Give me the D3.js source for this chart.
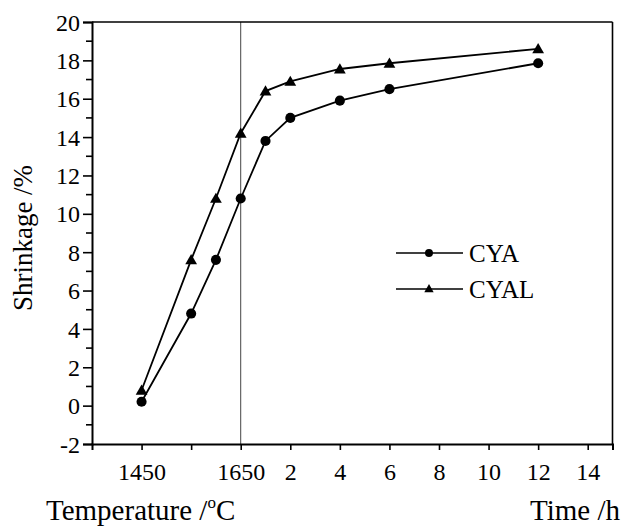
<!DOCTYPE html>
<html><head><meta charset="utf-8">
<script src="https://cdn.jsdelivr.net/npm/d3@7"></script>
<style>body{margin:0;background:#fff}svg{display:block}</style>
</head><body>
<svg id="c" width="623" height="528"></svg>
<script>
// Temperature segment (°C), then holding-time segment (h) at 1650 °C
const tempPoints = [1450, 1550, 1600, 1650];
const timePoints = [1, 2, 4, 6, 12];
const cyaTemp  = [0.2, 4.8, 7.6, 10.8];
const cyaTime  = [13.8, 15.0, 15.9, 16.5, 17.85];
const cyalTemp = [0.8, 7.6, 10.8, 14.2];
const cyalTime = [16.4, 16.9, 17.55, 17.85, 18.6];
const xTickTemps = [1450, 1550, 1650];
const xTickTempLabels = ["1450", "", "1650"];
const xTickTimes = [2, 4, 6, 8, 10, 12, 14];
const yTicks = [-2, 0, 2, 4, 6, 8, 10, 12, 14, 16, 18, 20];
const seriesNames = ["CYA", "CYAL"];

const FONT = "Liberation Serif";

// composite axis position: temperature t -> (t-1350)/100, time h -> 3 + h/2
const posT = t => (t - 1350) / 100;
const posH = h => 3 + h / 2;

const L = 92, R = 612.5, T = 22, B = 444;
const x = d3.scaleLinear().domain([0, 10.5]).range([L, R]);
const y = d3.scaleLinear().domain([-2, 20]).range([B, T]);

const svg = d3.select("#c").attr("font-family", FONT);

function build(tv, hv) {
  return tempPoints.map((t, i) => ({p: posT(t), v: tv[i]}))
    .concat(timePoints.map((h, i) => ({p: posH(h), v: hv[i]})));
}
const cya = build(cyaTemp, cyaTime);
const cyal = build(cyalTemp, cyalTime);

// vertical separator at 1650 °C
svg.append("line").attr("x1", x(posT(1650))).attr("x2", x(posT(1650)))
  .attr("y1", y(20)).attr("y2", y(-2)).attr("stroke", "#444").attr("stroke-width", 1);

// frame top/right
svg.append("line").attr("x1", L).attr("x2", R).attr("y1", T).attr("y2", T).attr("stroke", "#000").attr("stroke-width", 1.6);
svg.append("line").attr("x1", R).attr("x2", R).attr("y1", T).attr("y2", B).attr("stroke", "#000").attr("stroke-width", 1.6);

// y axis
const yAxis = d3.axisLeft(y).tickValues(yTicks).tickSize(9).tickPadding(3).tickFormat(d => String(d));
const gy = svg.append("g").attr("transform", `translate(${L},0)`).call(yAxis);
gy.attr("font-family", FONT).attr("font-size", 24);
gy.select(".domain").attr("stroke-width", 2);
gy.selectAll(".tick line").attr("stroke-width", 1.6);
gy.selectAll(".tick text").attr("dy", "0.34em").style("font-family", FONT);
const yMinor = d3.range(-1, 20, 2);
svg.append("g").selectAll("line").data(yMinor).join("line")
  .attr("x1", L - 6).attr("x2", L).attr("y1", d => y(d)).attr("y2", d => y(d))
  .attr("stroke", "#000").attr("stroke-width", 1.6);

// x axis
const xTickPos = xTickTemps.map(posT).concat(xTickTimes.map(posH));
const xTickLab = xTickTempLabels.concat(xTickTimes.map(String));
const xAxis = d3.axisBottom(x).tickValues(xTickPos).tickSize(6).tickPadding(13)
  .tickFormat((d, i) => xTickLab[i]);
const gx = svg.append("g").attr("transform", `translate(0,${B})`).call(xAxis);
gx.attr("font-family", FONT).attr("font-size", 24);
gx.select(".domain").attr("stroke-width", 2);
gx.selectAll(".tick line").attr("stroke-width", 1.6);
gx.selectAll(".tick text").style("font-family", FONT);

// lines
const line = d3.line().x(d => x(d.p)).y(d => y(d.v));
[cya, cyal].forEach(s => svg.append("path").datum(s).attr("d", line)
  .attr("fill", "none").attr("stroke", "#000").attr("stroke-width", 1.8));

const circ = d3.symbol().type(d3.symbolCircle).size(80);
const tri = d3.symbol().type(d3.symbolTriangle).size(60);
svg.append("g").selectAll("path").data(cya).join("path")
  .attr("d", circ).attr("transform", d => `translate(${x(d.p)},${y(d.v)})`).attr("fill", "#000");
svg.append("g").selectAll("path").data(cyal).join("path")
  .attr("d", tri).attr("transform", d => `translate(${x(d.p)},${y(d.v) + 1})`).attr("fill", "#000");

// legend
const lg = svg.append("g");
seriesNames.forEach((n, i) => {
  const yy = 253 + i * 36;
  lg.append("line").attr("x1", 396).attr("x2", 463).attr("y1", yy).attr("y2", yy).attr("stroke", "#000").attr("stroke-width", 1.5);
  lg.append("path").attr("d", (i === 0 ? d3.symbol().type(d3.symbolCircle).size(50) : d3.symbol().type(d3.symbolTriangle).size(38))())
    .attr("transform", `translate(429,${yy + (i ? 0.5 : 0)})`).attr("fill", "#000");
  lg.append("text").attr("x", 469).attr("y", yy).attr("dy", "0.35em").attr("font-size", 25)
    .style("font-family", FONT).text(n);
});

// axis titles
const tg = svg.append("g");
tg.append("text").attr("transform", "translate(32,238) rotate(-90)").attr("text-anchor", "middle")
  .attr("font-size", 27).style("font-family", FONT).text("Shrinkage /%");
const tt = tg.append("text").attr("x", 46).attr("y", 520).attr("font-size", 29).style("font-family", FONT);
tt.append("tspan").text("Temperature /");
tt.append("tspan").attr("dy", -12).attr("font-size", 17).text("o");
tt.append("tspan").attr("dy", 12).text("C");
tg.append("text").attr("x", 620).attr("y", 520).attr("text-anchor", "end").attr("font-size", 29)
  .style("font-family", FONT).text("Time /h");
</script>
</body></html>
